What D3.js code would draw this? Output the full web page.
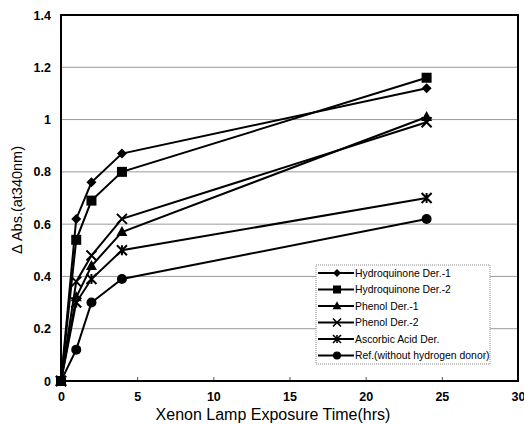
<!DOCTYPE html>
<html>
<head>
<meta charset="utf-8">
<script src="https://cdn.jsdelivr.net/npm/d3@7"></script>
<style>
  body { margin: 0; background: #fff; }
  text { font-family: "Liberation Sans", Arial, sans-serif; fill: #000; }
</style>
</head>
<body>
<div id="chart"></div>
<script>
// data
var hours = [0, 1, 2, 4, 24];
var seriesNames = ["Hydroquinone Der.-1", "Hydroquinone Der.-2", "Phenol Der.-1",
                   "Phenol Der.-2", "Ascorbic Acid Der.", "Ref.(without hydrogen donor)"];
var hydroquinone1 = [0, 0.62, 0.76, 0.87, 1.12];
var hydroquinone2 = [0, 0.54, 0.69, 0.80, 1.16];
var phenol1 = [0, 0.32, 0.44, 0.57, 1.01];
var phenol2 = [0, 0.38, 0.48, 0.62, 0.99];
var ascorbic = [0, 0.30, 0.39, 0.50, 0.70];
var reference = [0, 0.12, 0.30, 0.39, 0.62];
var xTicks = [0, 5, 10, 15, 20, 25, 30];
var yTicks = [0, 0.2, 0.4, 0.6, 0.8, 1, 1.2, 1.4];

var allSeries = [hydroquinone1, hydroquinone2, phenol1, phenol2, ascorbic, reference];
var markerTypes = ["diamond", "square", "triangle", "cross", "asterisk", "circle"];

var width = 524, height = 424;
var margin = {left: 61, right: 6, top: 15, bottom: 43};

var svg = d3.select("#chart").append("svg")
  .attr("width", width)
  .attr("height", height);

var x = d3.scaleLinear().domain([0, 30]).range([margin.left, width - margin.right]);
var y = d3.scaleLinear().domain([0, 1.4]).range([height - margin.bottom, margin.top]);

// gridlines
svg.append("g")
  .selectAll("line")
  .data(yTicks.slice(1, -1))
  .enter().append("line")
  .attr("x1", x(0)).attr("x2", x(30))
  .attr("y1", d => y(d)).attr("y2", d => y(d))
  .attr("stroke", "#9a9a9a").attr("stroke-width", 1);

// x axis, ticks pointing inward
var xAxis = svg.append("g")
  .attr("transform", "translate(0," + y(0) + ")")
  .call(d3.axisBottom(x).tickValues(xTicks).tickSizeInner(-4).tickSizeOuter(0).tickPadding(11).tickFormat(d3.format("d")));
xAxis.select(".domain").remove();
xAxis.selectAll("line").attr("stroke", "#555");
xAxis.selectAll("text").style("font-size", "12.5px").style("font-weight", "bold");

var yAxis = svg.append("g")
  .attr("transform", "translate(" + x(0) + ",0)")
  .call(d3.axisLeft(y).tickValues(yTicks).tickSize(0).tickPadding(10).tickFormat(d => d3.format("")(d)));
yAxis.select(".domain").remove();
yAxis.selectAll("text").style("font-size", "12.5px").style("font-weight", "bold");

// plot frame
svg.append("rect")
  .attr("x", x(0)).attr("y", y(1.4))
  .attr("width", x(30) - x(0)).attr("height", y(0) - y(1.4))
  .attr("fill", "none").attr("stroke", "#000").attr("stroke-width", 2);

// axis titles
svg.append("text")
  .attr("x", 273).attr("y", 419.5)
  .attr("text-anchor", "middle")
  .style("font-size", "16px")
  .text("Xenon Lamp Exposure Time(hrs)");

svg.append("text")
  .attr("transform", "translate(22,200) rotate(-90)")
  .attr("text-anchor", "middle")
  .style("font-size", "14.5px")
  .text("\u0394 Abs.(at340nm)");

function drawMarker(g, type) {
  if (type === "diamond") {
    g.append("path").attr("d", "M0,-5L5,0L0,5L-5,0Z").attr("fill", "#000");
  } else if (type === "square") {
    g.append("rect").attr("x", -5).attr("y", -5).attr("width", 10).attr("height", 10).attr("fill", "#000");
  } else if (type === "triangle") {
    g.append("path").attr("d", "M0,-6L5.5,4L-5.5,4Z").attr("fill", "#000");
  } else if (type === "cross") {
    g.append("path").attr("d", "M-5,-5L5,5M-5,5L5,-5").attr("stroke", "#000").attr("stroke-width", 2);
  } else if (type === "asterisk") {
    g.append("path").attr("d", "M-5,-5L5,5M-5,5L5,-5M0,-5L0,5").attr("stroke", "#000").attr("stroke-width", 2);
  } else {
    g.append("circle").attr("r", 5).attr("fill", "#000");
  }
}

var line = d3.line()
  .x(d => x(d[0]))
  .y(d => y(d[1]));

allSeries.forEach(function(vals, i) {
  var pts = hours.map((h, j) => [h, vals[j]]);
  svg.append("path")
    .datum(pts)
    .attr("d", line)
    .attr("fill", "none")
    .attr("stroke", "#000")
    .attr("stroke-width", 2);
  pts.forEach(function(p) {
    var g = svg.append("g").attr("transform", "translate(" + x(p[0]) + "," + y(p[1]) + ")");
    drawMarker(g, markerTypes[i]);
  });
});

// legend
var legend = svg.append("g").attr("transform", "translate(316,265)");
legend.append("rect")
  .attr("width", 174).attr("height", 99)
  .attr("fill", "#fff")
  .attr("stroke", "#888").attr("stroke-width", 1).attr("stroke-dasharray", "1,1");

seriesNames.forEach(function(name, i) {
  var row = legend.append("g").attr("transform", "translate(0," + (8 + i * 16.5) + ")");
  row.append("line").attr("x1", 2).attr("x2", 38).attr("stroke", "#000").attr("stroke-width", 2);
  var m = row.append("g").attr("transform", "translate(21,0) scale(0.8)");
  drawMarker(m, markerTypes[i]);
  row.append("text")
    .attr("x", 39).attr("y", 3.7)
    .style("font-size", "10.4px")
    .text(name);
});
</script>
</body>
</html>
